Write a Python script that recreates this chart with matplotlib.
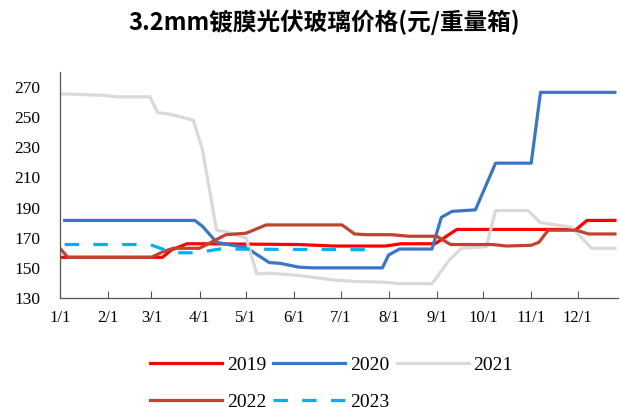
"""
3.2mm coated PV glass price by year (yuan / weight box), weekly series
plotted against day of year.
"""

import matplotlib
matplotlib.use("Agg")
import matplotlib.pyplot as plt

# ── Data (day of year, price) ──────────────────────────────────────────
month_days = [0, 31, 59, 90, 120, 151, 181, 212, 243, 273, 304, 334]
month_labels = ["1/1", "2/1", "3/1", "4/1", "5/1", "6/1",
                "7/1", "8/1", "9/1", "10/1", "11/1", "12/1"]

days_2019 = [0, 66, 72, 82, 92, 154, 176, 210, 220, 242, 256, 333, 340, 358]
vals_2019 = [157, 157, 162, 166, 166, 165.5, 164.5, 164.5, 166, 166,
             175.5, 175.5, 181.5, 181.5]

days_2020 = [3, 87, 92, 101, 111, 120, 135, 142, 154, 163, 208, 212, 219,
             240, 246, 253, 268, 281, 304, 310, 358]
vals_2020 = [181.5, 181.5, 177.5, 167, 165, 163.5, 153.5, 153, 150.5, 150,
             150, 158.5, 162.5, 162.5, 183.5, 187.5, 188.5, 219.5, 219.5,
             266.5, 266.5]

days_2021 = [1, 28, 37, 58, 63, 71, 86, 92, 101, 107, 116, 120, 127, 135,
             154, 176, 190, 209, 219, 240, 251, 259, 275, 281, 302, 310,
             330, 343, 358]
vals_2021 = [265.5, 264.5, 263.5, 263.5, 253, 252, 248, 228, 175, 174, 171,
             170, 146, 146.5, 145, 142, 141, 140.5, 139.5, 139.5, 155, 163,
             164, 188, 188, 180, 177, 163, 163]

days_2022 = [0, 5, 59, 66, 73, 90, 107, 120, 133, 182, 190, 198, 214, 225,
             243, 252, 279, 288, 304, 309, 315, 333, 341, 358]
vals_2022 = [163, 157, 157, 160.5, 163, 163, 172, 173, 178.5, 178.5, 172.5,
             172, 172, 171, 171, 165.5, 165.5, 164.5, 165, 167, 175, 175,
             172.5, 172.5]

days_2023 = [3, 58, 73, 88, 103, 204]
vals_2023 = [165.5, 165.5, 160, 160, 162.5, 162]

# ── Style ──────────────────────────────────────────────────────────────
plt.rcParams["font.family"] = ["Liberation Serif", "DejaVu Serif"]

fig = plt.figure(figsize=(6.2, 4.07), dpi=100)
ax = fig.add_axes([60 / 620, 1 - 298 / 407, 558 / 620, (298 - 72) / 407])

lw = 2.3
l19, = ax.plot(days_2019, vals_2019, color="#FF0000", lw=lw, label="2019")
l20, = ax.plot(days_2020, vals_2020, color="#3A76C6", lw=lw, label="2020")
l21, = ax.plot(days_2021, vals_2021, color="#D9D9D9", lw=lw, label="2021")
l22, = ax.plot(days_2022, vals_2022, color="#C0432F", lw=lw, label="2022")
l23, = ax.plot(days_2023, vals_2023, color="#00B0F0", lw=lw,
               linestyle=(0, (4.5, 4.5)), label="2023")

ax.set_xlim(0, 360)
ax.set_ylim(130, 280)
ax.set_yticks(range(130, 271, 20))
ax.set_xticks(month_days)
ax.set_xticklabels(month_labels)
ax.tick_params(axis="x", direction="in", length=5, width=0.8,
               labelsize=12, pad=9, color="#555555")
ax.tick_params(axis="y", length=0, labelsize=12.5, pad=14)

for side in ("top", "right"):
    ax.spines[side].set_visible(False)
for side in ("left", "bottom"):
    ax.spines[side].set_color("#555555")
    ax.spines[side].set_linewidth(0.9)

fig.text(0.523, 0.946, "3.2mm镀膜光伏玻璃价格(元/重量箱)",
         family=["Noto Sans CJK SC", "DejaVu Sans"], fontweight="bold",
         fontsize=17, ha="center", va="center")

fig.legend([l19, l22, l20, l23, l21], ["2019", "2022", "2020", "2023", "2021"],
           ncol=3, loc="upper left", bbox_to_anchor=(150 / 620, 1 - 356 / 407),
           frameon=False, fontsize=14, handlelength=3.7, handletextpad=0.26,
           columnspacing=0.36, labelspacing=1.0, borderpad=0, borderaxespad=0)

fig.savefig("out.png", dpi=100)
